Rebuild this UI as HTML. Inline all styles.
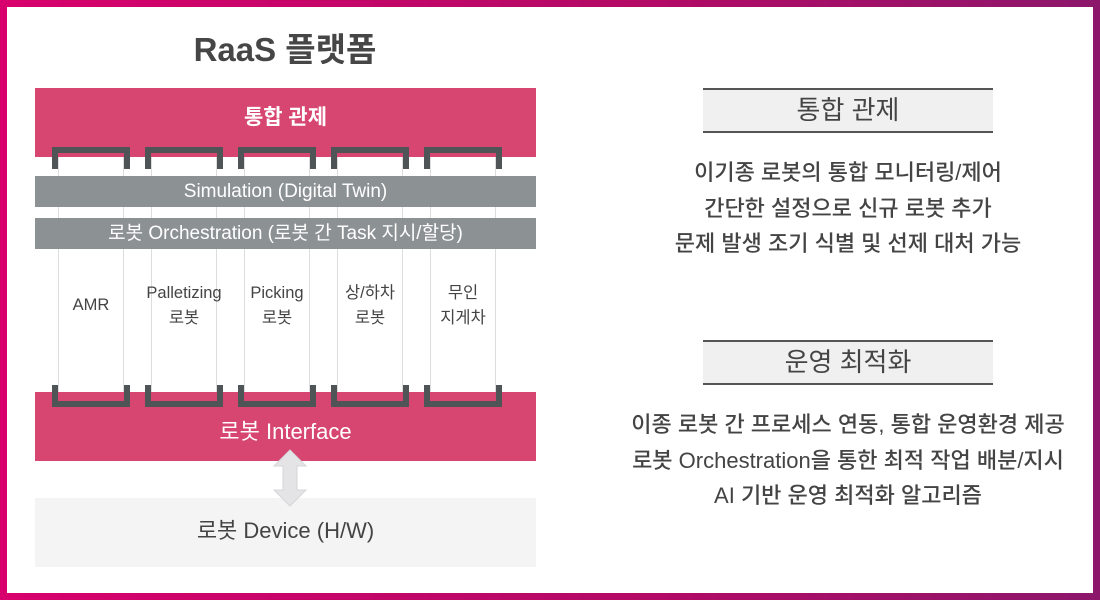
<!DOCTYPE html>
<html><head><meta charset="utf-8"><style>
*{margin:0;padding:0;box-sizing:border-box}
body{width:1100px;height:600px;position:relative;overflow:hidden;background:linear-gradient(90deg,#d8006c,#b20a66 60%,#8c176a);font-family:"Liberation Sans","Noto Sans CJK KR",sans-serif}
.in{position:absolute;left:7px;top:7px;width:1086px;height:586px;background:#fff}
.a{position:absolute}
.c{text-align:center}
.col{position:absolute;top:157px;height:236px;width:66px;border-left:1px solid #ddd;border-right:1px solid #ddd;background:#fff}
.bt{position:absolute;width:78px;height:22px;border:6px solid #4f5457;border-bottom:none;top:147px}
.bb{position:absolute;width:78px;height:22px;border:6px solid #4f5457;border-top:none;top:385px}
.lbl{position:absolute;top:281px;left:0;width:94px;text-align:center;font-size:16.5px;line-height:25px;color:#444}
.bar{position:absolute;left:35px;width:501px;height:31px;background:rgba(134,139,142,0.95);color:#fff;font-size:19px;line-height:31px;text-align:center}
.hd{position:absolute;left:703px;width:290px;height:45px;background:#f0f0f0;border-top:2px solid #555;border-bottom:2px solid #555;text-align:center;font-size:26px;line-height:40px;color:#444}
.tx{position:absolute;left:600px;width:496px;text-align:center;font-size:22px;font-weight:500;color:#444;line-height:35.5px}
</style></head><body><div class="in"></div>
<div class="a c" style="left:135px;top:30px;width:300px;font-size:33px;font-weight:bold;color:#464646;line-height:40px">RaaS 플랫폼</div>
<div class="a c" style="left:35px;top:88px;width:501px;height:69px;background:#d74571;color:#fff;font-size:21px;font-weight:bold;line-height:60px">통합 관제</div>
<div class="col" style="left:58px"></div><div class="col" style="left:151px"></div><div class="col" style="left:244px"></div><div class="col" style="left:337px"></div><div class="col" style="left:430px"></div>
<div class="a c" style="left:35px;top:392px;width:501px;height:69px;background:#d74571;color:#fff;font-size:22px;line-height:80px">로봇 Interface</div>
<div class="bt" style="left:52px"></div><div class="bt" style="left:145px"></div><div class="bt" style="left:238px"></div><div class="bt" style="left:331px"></div><div class="bt" style="left:424px"></div>
<div class="bb" style="left:52px"></div><div class="bb" style="left:145px"></div><div class="bb" style="left:238px"></div><div class="bb" style="left:331px"></div><div class="bb" style="left:424px"></div>
<div class="bar" style="top:176px">Simulation (Digital Twin)</div>
<div class="bar" style="top:218px">로봇 Orchestration (로봇 간 Task 지시/할당)</div>
<div class="lbl" style="left:44px;top:293px">AMR</div>
<div class="lbl" style="left:137px">Palletizing<br>로봇</div>
<div class="lbl" style="left:230px">Picking<br>로봇</div>
<div class="lbl" style="left:323px">상/하차<br>로봇</div>
<div class="lbl" style="left:416px">무인<br>지게차</div>
<div class="a c" style="left:35px;top:498px;width:501px;height:69px;background:#f4f4f4;color:#444;font-size:22px;line-height:66px">로봇 Device (H/W)</div>
<svg class="a" style="left:270px;top:448px" width="40" height="60"><polygon points="20,2 36,18 27,18 27,42 36,42 20,58 4,42 13,42 13,18 4,18" fill="#e4e4e6" stroke="#d6d6d8" stroke-width="1"/></svg>
<div class="hd" style="top:88px">통합 관제</div>
<div class="tx" style="top:155px">이기종 로봇의 통합 모니터링/제어<br>간단한 설정으로 신규 로봇 추가<br>문제 발생 조기 식별 및 선제 대처 가능</div>
<div class="hd" style="top:340px">운영 최적화</div>
<div class="tx" style="top:407px">이종 로봇 간 프로세스 연동, 통합 운영환경 제공<br>로봇 Orchestration을 통한 최적 작업 배분/지시<br>AI 기반 운영 최적화 알고리즘</div>
</body></html>
